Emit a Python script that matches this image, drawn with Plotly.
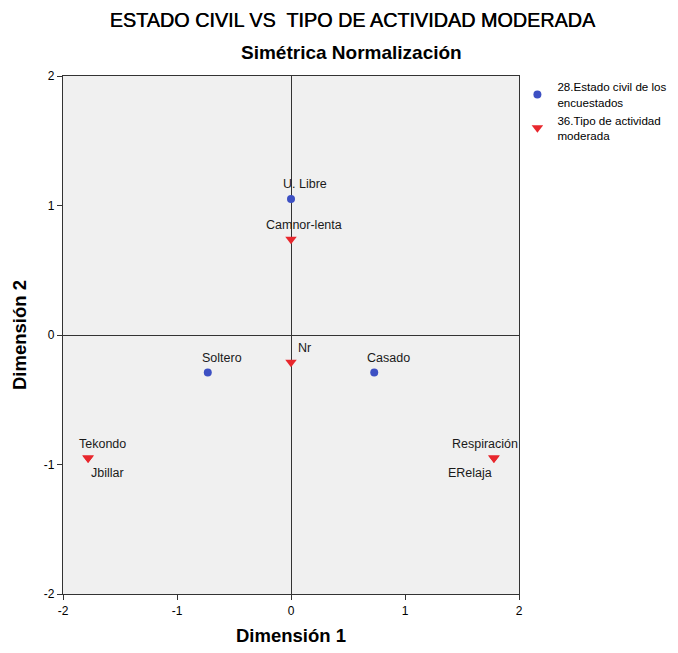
import plotly.graph_objects as go

# Data
estado_labels = ["U. Libre", "Soltero", "Casado"]
estado_x = [0.0, -0.73, 0.73]
estado_y = [1.05, -0.29, -0.29]

actividad_labels = ["Camnor-lenta", "Nr", "Tekondo", "Jbillar", "Respiración", "ERelaja"]
actividad_x = [0.0, 0.0, -1.78, -1.78, 1.78, 1.78]
actividad_y = [0.74, -0.21, -0.95, -0.95, -0.95, -0.95]

series_names = ["28.Estado civil de los<br>encuestados", "36.Tipo de actividad<br>moderada"]
tick_vals = [-2, -1, 0, 1, 2]
tick_text = ["-2", "-1", "0", "1", "2"]

# label offsets (px): (xshift, yshift)
estado_offsets = [(14, 15), (14, 15), (14, 15)]
actividad_offsets = [(13, 14), (13, 14), (14, 14), (19, -15), (-9, 14), (-24, -15)]

FONT = "Liberation Sans, Arial, sans-serif"

fig = go.Figure()
fig.add_trace(go.Scatter(
    x=estado_x, y=estado_y, mode="markers", name=series_names[0],
    marker=dict(symbol="circle", size=8, color="#3d50c3"),
    hoverinfo="skip"))
fig.add_trace(go.Scatter(
    x=actividad_x, y=actividad_y, mode="markers", name=series_names[1],
    marker=dict(symbol="triangle-down", size=10, color="#e8272d"),
    hoverinfo="skip"))

annotations = []
for lbl, x, y, (dx, dy) in zip(estado_labels, estado_x, estado_y, estado_offsets):
    annotations.append(dict(x=x, y=y, text=lbl, showarrow=False, xshift=dx, yshift=dy,
                            font=dict(family=FONT, size=12.5, color="#1a1a1a")))
for lbl, x, y, (dx, dy) in zip(actividad_labels, actividad_x, actividad_y, actividad_offsets):
    annotations.append(dict(x=x, y=y, text=lbl, showarrow=False, xshift=dx, yshift=dy,
                            font=dict(family=FONT, size=12.5, color="#1a1a1a")))

# subtitle
annotations.append(dict(xref="paper", yref="paper", x=0.6316, y=1, yshift=24, yanchor="middle",
                        xanchor="center", text="<b>Simétrica Normalización</b>",
                        showarrow=False, font=dict(family=FONT, size=19, color="black")))

fig.update_layout(
    width=670, height=645,
    margin=dict(l=55, r=159, t=68, b=59, autoexpand=False),
    paper_bgcolor="white", plot_bgcolor="#f0f0f0",
    title=dict(text="ESTADO CIVIL VS  TIPO DE ACTIVIDAD MODERADA",
               x=0.514, xref="container", xanchor="center", y=0.981, yanchor="middle",
               font=dict(family=FONT, size=19.8, color="black",
                         shadow="0.4px 0 0 black")),
    annotations=annotations,
    showlegend=True,
    legend=dict(x=0.9965, y=1.006, xanchor="left", yanchor="top", valign="middle",
                font=dict(family=FONT, size=11.6, color="black"),
                bgcolor="rgba(0,0,0,0)", tracegroupgap=3, itemwidth=30),
    font=dict(family=FONT, color="black"),
)

fig.update_xaxes(range=[-2, 2], tickvals=tick_vals, ticktext=tick_text, showgrid=False,
                 zeroline=True, zerolinecolor="#333333", zerolinewidth=1.2,
                 showline=True, linecolor="#333333", linewidth=1.2, mirror=True,
                 ticks="outside", ticklen=5, tickcolor="#333333",
                 tickfont=dict(family=FONT, size=12, color="black"),
                 title=dict(text="<b>Dimensión 1</b>", standoff=12,
                            font=dict(family=FONT, size=18.5, color="black")))
fig.update_yaxes(range=[-2, 2], tickvals=tick_vals, ticktext=tick_text, showgrid=False,
                 zeroline=True, zerolinecolor="#333333", zerolinewidth=1.2,
                 showline=True, linecolor="#333333", linewidth=1.2, mirror=True,
                 ticks="outside", ticklen=5, tickcolor="#333333",
                 tickfont=dict(family=FONT, size=12, color="black"),
                 title=dict(text="<b>Dimensión 2</b>", standoff=12,
                            font=dict(family=FONT, size=18.5, color="black")))

fig.write_html("out.html")
